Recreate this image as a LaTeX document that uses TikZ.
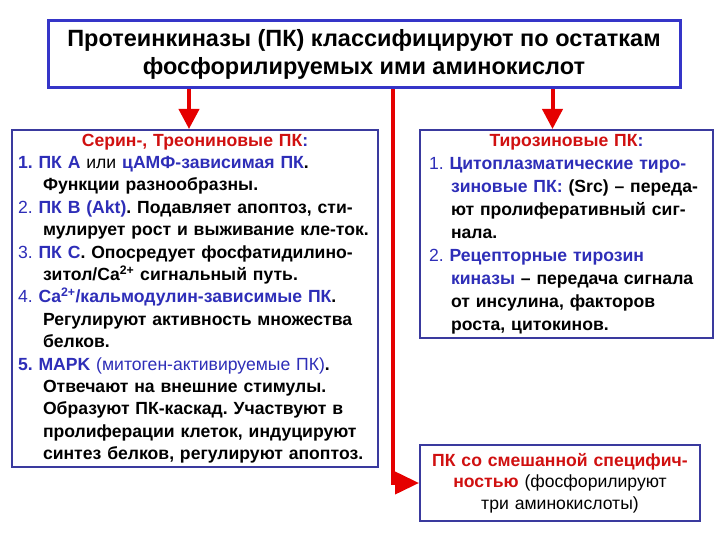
\documentclass[tikz,border=0pt]{standalone}
\usepackage{fontspec}
\setmainfont{Liberation Sans}
\usepackage{xcolor}
\usetikzlibrary{arrows.meta, positioning, calc}
\definecolor{pkblue}{HTML}{2E2EB8}
\definecolor{pkframe}{HTML}{3A3A9E}
\definecolor{pktopframe}{HTML}{3535C8}
\definecolor{pkred}{HTML}{D01010}
\definecolor{pkarrow}{HTML}{E50000}
\newcommand{\pkb}[1]{\textcolor{pkblue}{#1}}
\newcommand{\pkr}[1]{\textcolor{pkred}{#1}}
\newcommand{\pkind}[1][25pt]{\hspace*{#1}}
\frenchspacing

\begin{document}
\begin{tikzpicture}[x=1pt, y=-1pt,
    pkbox/.style={draw=pkframe, line width=2pt, fill=white, inner ysep=0pt,
        font=\bfseries\fontsize{17.6}{22.4}\selectfont, align=left},
    pkhead/.style={draw=pktopframe, line width=3pt, fill=white, inner sep=0pt,
        minimum width=632pt, minimum height=67pt, align=center,
        font=\bfseries\fontsize{23.5}{28}\selectfont},
    pkarrow/.style={draw=pkarrow, line width=4pt,
        -{Triangle[width=20pt, length=20pt]}}]
    \useasboundingbox (0,0) rectangle (720,540);
    % title
    \node[pkhead] (top) at (364,54.5)
        {Протеинкиназы (ПК) классифицируют по остаткам\\
         фосфорилируемых ими аминокислот};
    % serine / threonine kinases
    \node[pkbox, text width=354pt, inner xsep=6pt, minimum height=337pt] (lbox) at (195,298.5)
        {\makebox[\linewidth]{\pkr{Серин-, Треониновые ПК}\pkb{:}}\\
         \pkb{1. ПК А} {\mdseries или} \pkb{цАМФ-зависимая ПК}.\\
         \pkind Функции разнообразны.\\
         \pkb{{\mdseries 2.} ПК В (Akt)}. Подавляет апоптоз, сти-\\
         \pkind мулирует рост и выживание кле-ток.\\
         \pkb{{\mdseries 3.} ПК С}. Опосредует фосфатидилино-\\
         \pkind зитол/Ca\textsuperscript{2+} сигнальный путь.\\
         \pkb{{\mdseries 4.} Ca\textsuperscript{2+}/кальмодулин-зависимые ПК}.\\
         \pkind Регулируют активность множества\\
         \pkind белков.\\
         \pkb{5. MAPK {\mdseries (митоген-активируемые ПК)}}.\\
         \pkind Отвечают на внешние стимулы.\\
         \pkind Образуют ПК-каскад. Участвуют в\\
         \pkind пролиферации клеток, индуцируют\\
         \pkind синтез белков, регулируют апоптоз.};
    % tyrosine kinases
    \node[pkbox, text width=275pt, inner xsep=9pt, minimum height=208pt,
        font=\bfseries\fontsize{17.6}{23}\selectfont] (rbox) at (566.5,234)
        {\makebox[\linewidth]{\pkr{Тирозиновые ПК}\pkb{:}}\\
         \pkb{{\mdseries 1.} Цитоплазматические тиро-}\\
         \pkind[22pt]\pkb{зиновые ПК:} (Src) – переда-\\
         \pkind[22pt]ют пролиферативный сиг-\\
         \pkind[22pt]нала.\\
         \pkb{{\mdseries 2.} Рецепторные тирозин}\\
         \pkind[22pt]\pkb{киназы} – передача сигнала\\
         \pkind[22pt]от инсулина, факторов\\
         \pkind[22pt]роста, цитокинов.};
    % mixed specificity
    \node[pkbox, text width=264pt, inner xsep=8pt, minimum height=76pt, align=center,
        font=\bfseries\fontsize{17.6}{21.5}\selectfont] (mbox) at (560,483)
        {\pkr{ПК со смешанной специфич-}\\
         \pkr{ностью} {\mdseries (фосфорилируют}\\
         {\mdseries три аминокислоты)}};
    % connectors
    \draw[pkarrow] ([xshift=-6pt]top.south -| lbox.north) -- ([xshift=-6pt]lbox.north);
    \draw[pkarrow] ([xshift=-14pt]top.south -| rbox.north) -- ([xshift=-14pt]rbox.north);
    \draw[pkarrow, -{Triangle[width=22pt, length=24pt]}] ([xshift=29pt]top.south) |- (mbox.west);
\end{tikzpicture}
\end{document}
